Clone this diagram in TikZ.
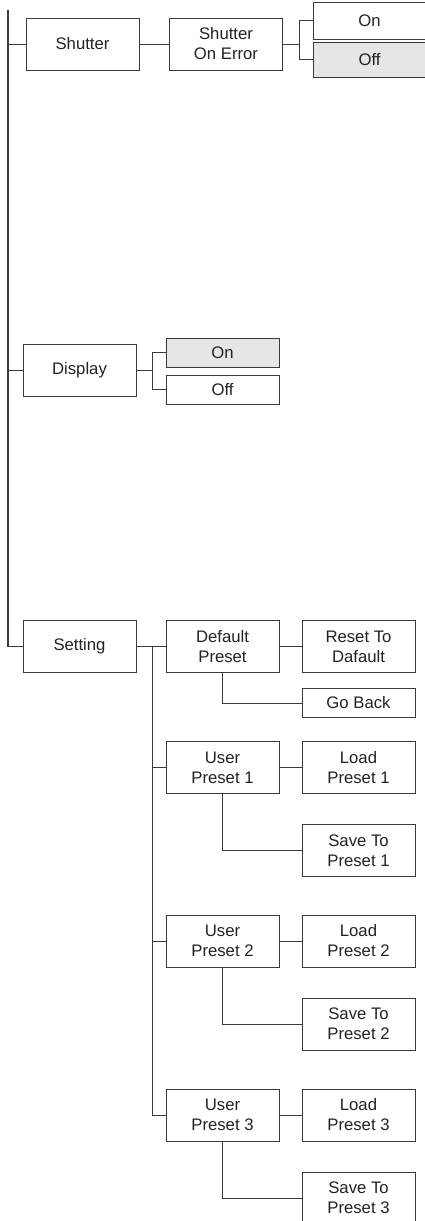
\documentclass[tikz,border=0pt]{standalone}
\usepackage{fontspec}
\setmainfont{Liberation Sans}
\definecolor{lnc}{HTML}{3A3A3A}
\definecolor{selc}{HTML}{E6E6E6}
\definecolor{txc}{HTML}{222222}
\begin{document}
\begin{tikzpicture}[x=1pt, y=-1pt,
  menubox/.style={draw=lnc, line width=0.9pt, minimum width=113pt, minimum height=52pt,
    inner sep=0pt, align=center, text=txc, font=\fontsize{16.7}{20}\selectfont},
  shortbox/.style={menubox, minimum height=29pt},
  selbox/.style={fill=selc}]
\clip (0,0) rectangle (425,1221);
\coordinate (trtop) at (8,10);
\coordinate (trbot) at (8,646.5);
\node[menubox] (shut) at (82.5,44){Shutter};
\node[menubox] (serr) at (226,44){Shutter\\On Error};
\node[menubox, minimum height=37pt] (son) at (369.5,20.5){On};
\node[menubox, minimum height=35pt, selbox] (soff) at (369.5,59.5){Off};
\node[menubox] (disp) at (79.5,370.5){Display};
\node[shortbox, selbox] (don) at (222.5,352.5){On};
\node[shortbox] (doff) at (222.5,389.5){Off};
\node[menubox] (sett) at (79.5,646.5){Setting};
\coordinate (sfork) at (152,646.5);
\node[menubox] (dpre) at (222.5,646.5){Default\\Preset};
\node[menubox] (rset) at (358.5,646.5){Reset To\\Dafault};
\node[shortbox] (gbck) at (358.5,703){Go Back};
\foreach \i/\y in {1/767.5, 2/941, 3/1115} {
  \node[menubox] (up\i) at (222.5,\y){User\\Preset \i};
  \node[menubox] (ld\i) at (358.5,\y){Load\\Preset \i};
  \node[menubox] (sv\i) at (358.5,\y+83){Save To\\Preset \i};
  \draw[lnc, line width=0.9pt](up\i) -- (ld\i);
  \draw[lnc, line width=0.9pt](up\i.south) |- (sv\i.west);
  \draw[lnc, line width=0.9pt](sfork |- up\i.west) -- (up\i.west);
}
\draw[lnc, line width=1.1pt](trtop) -- (trbot) -- (sett.west);
\draw[lnc, line width=0.9pt](trtop |- shut.west) -- (shut.west);
\draw[lnc, line width=0.9pt](trtop |- disp.west) -- (disp.west);
\draw[lnc, line width=0.9pt](shut) -- (serr);
\draw[lnc, line width=0.9pt](serr.east) -- ++(16,0) |- (son.west);
\draw[lnc, line width=0.9pt](serr.east) -- ++(16,0) |- (soff.west);
\draw[lnc, line width=0.9pt](disp.east) -- ++(16,0) |- (don.west);
\draw[lnc, line width=0.9pt](disp.east) -- ++(16,0) |- (doff.west);
\draw[lnc, line width=0.9pt](sett) -- (dpre);
\draw[lnc, line width=0.9pt](sfork) -- (sfork |- up3.west);
\draw[lnc, line width=0.9pt](dpre) -- (rset);
\draw[lnc, line width=0.9pt](dpre.south) |- (gbck.west);
\end{tikzpicture}
\end{document}
